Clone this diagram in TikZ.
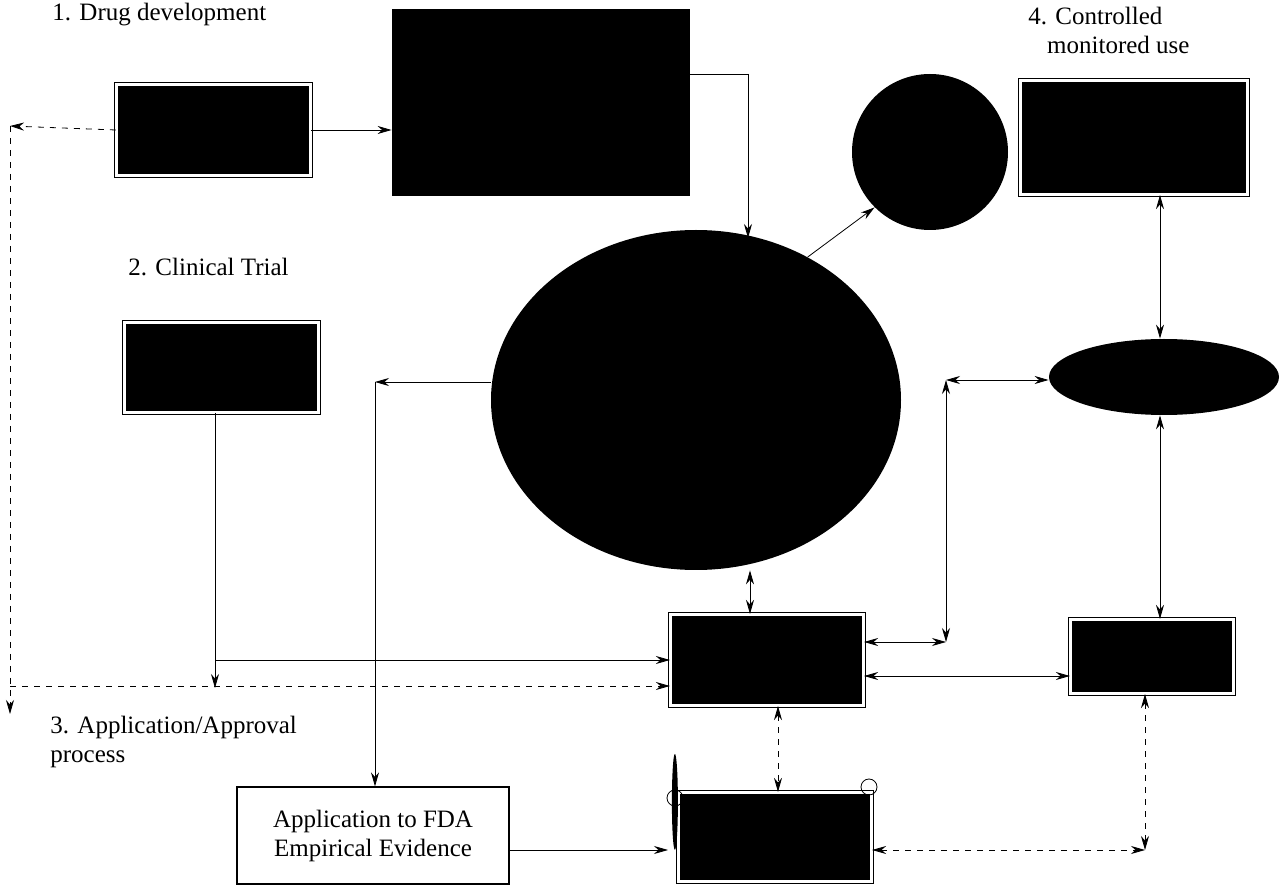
\documentclass[tikz,border=0pt]{standalone}
\usepackage{fontspec}
\setmainfont{Liberation Serif}
\usetikzlibrary{positioning,arrows.meta,shapes.geometric}
\begin{document}
\begin{tikzpicture}[x=0.5pt,y=-0.5pt,
  >={Stealth[length=7pt,width=4pt]},
  every node/.style={font=\fontsize{12.5}{14.5}\selectfont, inner sep=0pt},
  dbox/.style={draw, fill=black, double=white, double distance=1.5pt, line width=0.6pt, rectangle},
  fbox/.style={fill=black, rectangle},
  lbl/.style={anchor=west, align=left}]
\useasboundingbox (0,0) rectangle (1282,893);

%% Labels
\node[lbl] (l1) at (52,15) {1. Drug development};
\node[lbl] (l2) at (128,267) {2. Clinical Trial};
\node[lbl] (l3) at (50,742) {3. Application/Approval\\process};
\node[lbl] (l4) at (1028,30) {4. Controlled\\\ \ \ monitored use};

%% Boxes
\node[dbox, minimum width=97pt, minimum height=45.5pt] (dev) at (213.5,130) {};
\node[fbox, minimum width=149pt, minimum height=93.5pt] (lab) at (541,102.5) {};
\node[circle, fill=black, minimum size=78pt] (circ) at (930,152) {};
\node[dbox, minimum width=113.5pt, minimum height=57pt] (use) at (1134,137.5) {};
\node[ellipse, fill=black, minimum width=205pt, minimum height=170pt] (core) at (696,400) {};
\node[ellipse, fill=black, minimum width=115pt, minimum height=38pt] (mon) at (1164,377) {};
\node[dbox, minimum width=97pt, minimum height=45pt] (trial) at (221.5,367.5) {};
\node[dbox, minimum width=96.5pt, minimum height=45.5pt] (hub) at (767,660) {};
\node[dbox, minimum width=81.5pt, minimum height=37pt] (rep) at (1152,656.5) {};
\node[dbox, minimum width=96.5pt, minimum height=44.5pt] (fda) at (775,837) {};
\node[draw, line width=0.6pt, minimum width=136pt, minimum height=48.5pt, align=center] (app) at (373,835.5) {Application to FDA\\Empirical Evidence};

% marks on the FDA box
\fill (fda.north west) ++(-3,10) ellipse (3 and 48);
\draw[line width=0.4pt] (675,798) circle (8);
\draw[line width=0.4pt] (869,787) circle (8);

%% Junctions
\coordinate (dl) at (10,126);
\coordinate (db) at (10,686);
\coordinate (lt) at (748,74);
\coordinate (jl) at (375,382);
\coordinate (jt) at (215,660);
\coordinate (jr) at (946,642);
\coordinate (jm) at (946,380);
\coordinate (jd) at (1145,850);

%% Connections
\draw[->] (dev.east) -- (lab.west |- dev.east);
\draw[->, dashed] (dev.west) -- (dl);
\draw[->, dashed] (dl) -- ([yshift=-14]db);
\draw[->, dashed] (db) -- (hub.west |- db);
\draw (lab.east |- lt) -- (lt);
\draw[->] (lt) -- (748,238);
\draw[->] (core.52) -- (circ.225);
\draw[->] (core.west |- jl) -- (jl);
\draw[->] (jl) -- (app.north -| jl);
\draw[->] (trial.south -| jt) -- ([yshift=-14]jt);
\draw[->] (jt) -- (hub.west |- jt);
\draw[<->] (core.south -| 750,0) -- (hub.north -| 750,0);
\draw[<->] (hub.east |- jr) -- (jr);
\draw[<->] (jr) -- (jm);
\draw[<->] (jm) -- (mon.west |- jm);
\draw[<->] (use.south -| 1160,0) -- (mon.north -| 1160,0);
\draw[<->] (mon.south -| 1160,0) -- (rep.north -| 1160,0);
\draw[<->] (hub.east |- 0,676) -- (rep.west |- 0,676);
\draw[<->, dashed] (hub.south -| 778,0) -- (fda.north -| 778,0);
\draw[<->, dashed] (rep.south -| jd) -- (jd);
\draw[<->, dashed] (fda.east |- jd) -- (jd);
\draw[->] (app.east |- jd) -- (668,850);
\end{tikzpicture}
\end{document}
